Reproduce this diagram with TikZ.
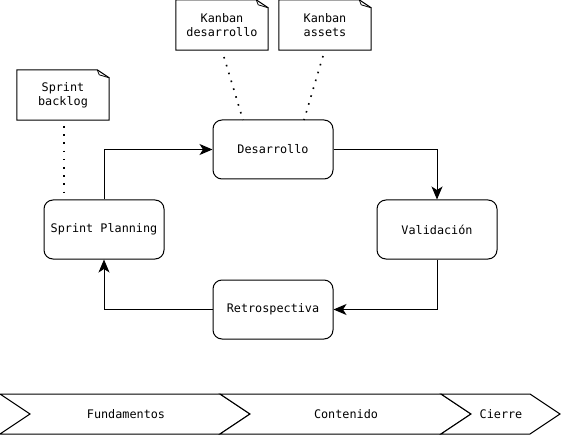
\documentclass[tikz,border=0pt]{standalone}
\usepackage{fontspec}
\setmonofont{DejaVu Sans Mono}
\usetikzlibrary{arrows.meta,calc}
\tikzset{
  every node/.style={font=\ttfamily\fontsize{11.8}{14}\selectfont},
  proc/.style={draw, line width=1pt, rounded corners=9pt, minimum width=120pt, minimum height=59pt, align=center, fill=white},
  notebox/.style={minimum width=92pt, minimum height=50pt, align=center},
  arr/.style={line width=1pt, -{Stealth[length=13pt,width=11pt,inset=3.5pt]}},
  dots/.style={line width=1.6pt, dash pattern=on 1.6pt off 6.6pt},
  chev/.style={line width=1pt, draw=black, fill=white},
}
\newcommand{\notedraw}[1]{%
  \draw[line width=1pt] (#1.north west) -- ([xshift=-12pt]#1.north east) -- ([yshift=-8pt]#1.north east) -- (#1.south east) -- (#1.south west) -- cycle;
  \draw[line width=0.8pt] ([xshift=-12pt]#1.north east) -- ([xshift=-10pt,yshift=-5pt]#1.north east) -- ([yshift=-8pt]#1.north east);
}
\begin{document}
\begin{tikzpicture}[x=1pt,y=-1pt]
\useasboundingbox (0,0) rectangle (561,435);
% notes
\node[notebox] (kd) at (222,25) {Kanban\\desarrollo};
\node[notebox] (ka) at (325,25) {Kanban\\assets};
\node[notebox] (sb) at (63,95) {Sprint\\backlog};
\notedraw{kd}
\notedraw{ka}
\notedraw{sb}
% processes
\node[proc] (des) at (273,149.5) {Desarrollo};
\node[proc] (sp) at (104,229.5) {Sprint Planning};
\node[proc] (val) at (437,229.5) {Validación};
\node[proc] (ret) at (273,309.5) {Retrospectiva};
% dotted links
\coordinate (sbd) at (64,126);
\coordinate (kdd) at (224,57);
\coordinate (kad) at (323,56);
\draw[dots] (sbd) -- (sp.north -| sbd);
\draw[dots] (kdd) -- (243,120);
\draw[dots] (kad) -- (304,120);
% arrows
\draw[arr] (sp.north) |- (des.west);
\draw[arr] (des.east) -| (val.north);
\draw[arr] (val.south) |- (ret.east);
\draw[arr] (ret.west) -| (sp.south);
% chevrons
\draw[chev] (0,394) -- (220,394) -- (250,414) -- (220,434) -- (0,434) -- (30,414) -- cycle;
\draw[chev] (220,394) -- (441,394) -- (471,414) -- (441,434) -- (220,434) -- (250,414) -- cycle;
\draw[chev] (441,394) -- (530,394) -- (560,414) -- (530,434) -- (441,434) -- (471,414) -- cycle;
\node (f1) at (126,414) {Fundamentos};
\node (f2) at (346,414) {Contenido};
\node (f3) at (501,414) {Cierre};
\end{tikzpicture}
\end{document}
